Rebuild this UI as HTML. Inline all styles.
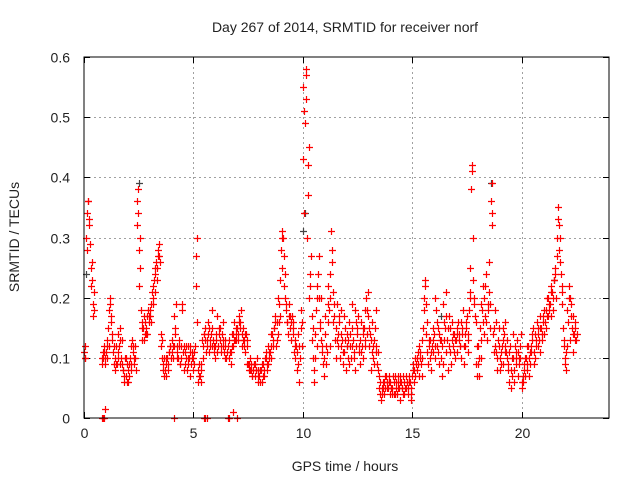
<!DOCTYPE html>
<html><head><meta charset="utf-8"><style>
body{margin:0;background:#fff}
svg{display:block;font-family:"Liberation Sans",sans-serif}
</style></head><body>
<svg id="chart" width="640" height="480" viewBox="0 0 640 480">
<rect width="640" height="480" fill="#fff"/>
<text x="345" y="32" font-size="14" text-anchor="middle" fill="#222">Day 267 of 2014, SRMTID for receiver norf</text>
<text transform="translate(19,237) rotate(-90)" font-size="14" text-anchor="middle" fill="#222">SRMTID / TECUs</text>
<text x="345" y="471" font-size="14" text-anchor="middle" fill="#222">GPS time / hours</text>
<g id="grid"></g>
<g id="ticks"></g>
<g id="marks"></g>
<rect x="84" y="57" width="525" height="361" fill="none" stroke="#000" stroke-width="1"/>
</svg>
<script>
const xTicks=[0,5,10,15,20];
const yTicks=[0,0.1,0.2,0.3,0.4,0.5,0.6];
const yTickLabels=["0","0.1","0.2","0.3","0.4","0.5","0.6"];
const hours=[0.0,0.1,0.2,0.3,0.4,0.5,0.6,0.7,0.8,0.9,1.0,1.1,1.2,1.3,1.4,1.5,1.6,1.7,1.8,1.9,2.0,2.1,2.2,2.3,2.4,2.5,2.6,2.7,2.8,2.9,3.0,3.1,3.2,3.3,3.4,3.5,3.6,3.7,3.8,3.9,4.0,4.1,4.2,4.3,4.4,4.5,4.6,4.7,4.8,4.9,5.0,5.1,5.2,5.3,5.4,5.5,5.6,5.7,5.8,5.9,6.0,6.1,6.2,6.3,6.4,6.5,6.6,6.7,6.8,6.9,7.0,7.1,7.2,7.3,7.4,7.5,7.6,7.7,7.8,7.9,8.0,8.1,8.2,8.3,8.4,8.5,8.6,8.7,8.8,8.9,9.0,9.1,9.2,9.3,9.4,9.5,9.6,9.7,9.8,9.9,10.0,10.1,10.2,10.3,10.4,10.5,10.6,10.7,10.8,10.9,11.0,11.1,11.2,11.3,11.4,11.5,11.6,11.7,11.8,11.9,12.0,12.1,12.2,12.3,12.4,12.5,12.6,12.7,12.8,12.9,13.0,13.1,13.2,13.3,13.4,13.5,13.6,13.7,13.8,13.9,14.0,14.1,14.2,14.3,14.4,14.5,14.6,14.7,14.8,14.9,15.0,15.1,15.2,15.3,15.4,15.5,15.6,15.7,15.8,15.9,16.0,16.1,16.2,16.3,16.4,16.5,16.6,16.7,16.8,16.9,17.0,17.1,17.2,17.3,17.4,17.5,17.6,17.7,17.8,17.9,18.0,18.1,18.2,18.3,18.4,18.5,18.6,18.7,18.8,18.9,19.0,19.1,19.2,19.3,19.4,19.5,19.6,19.7,19.8,19.9,20.0,20.1,20.2,20.3,20.4,20.5,20.6,20.7,20.8,20.9,21.0,21.1,21.2,21.3,21.4,21.5,21.6,21.7,21.8,21.9,22.0,22.1,22.2,22.3,22.4,22.5];
const seriesA=[.11,.30,.36,.25,.19,null,null,null,.10,.12,
.11,.15,.19,.13,.10,.09,.12,.10,.08,.07,
.08,.10,.13,.09,.36,.28,.18,.15,.16,.14,
.18,.21,.23,.26,.28,.12,.09,.08,.10,.11,
.11,.12,.19,.10,.09,.18,.11,.08,.10,.09,
.10,.27,.08,.07,.13,.14,.12,.11,.14,.13,
.12,.17,.13,.14,.11,.10,.12,.11,.14,.13,
.15,.17,.14,.12,.14,.09,.08,.07,.09,.10,
.07,.08,.09,.10,.12,.11,.14,.15,.13,.16,
.28,.30,.20,.16,.15,.17,.11,.12,.09,.15,
.55,.49,.30,.20,.13,.08,.18,.24,.16,.12,
.14,.11,.18,.31,.21,.15,.12,.10,.13,.11,
.12,.16,.10,.13,.18,.14,.09,.12,.15,.20,
.17,.13,.10,.15,.09,.05,.04,.06,.07,.05,
.06,.05,.07,.04,.05,.06,.07,.05,.04,.06,
.07,.08,.10,.12,.09,.15,.22,.11,.13,.12,
.14,.18,.11,.10,.09,.15,.13,.12,.16,.11,
.13,.16,.12,.15,.14,.17,.18,.38,.23,.16,
.12,.15,.18,.20,.16,.21,.36,.14,.12,.10,
.10,.12,.14,.11,.09,.08,.10,.12,.13,.09,
.06,.08,.10,.12,.09,.13,.14,.16,.13,.15,
.17,.18,.20,.19,.21,.23,.27,.32,.24,.15,
.10,.18,.20,.15,.14,.13];
const seriesB=[.10,.34,.32,.22,.17,null,null,null,.09,.11,
.13,.12,.17,.11,.08,.14,.09,.13,.06,.10,
.06,.09,.11,.12,.32,.22,.15,.17,.14,.18,
.17,.20,.24,.25,.29,.14,.08,.10,.09,.12,
.13,.17,.10,.13,.12,.11,.09,.12,.07,.11,
.09,.22,.06,.09,.10,.15,.13,.15,.12,.11,
.14,.12,.15,.12,.13,null,.10,.09,.12,.15,
.13,.16,.12,.13,.12,.08,.09,.08,.07,.08,
.06,.09,.07,.11,.09,.14,.12,.17,.16,.19,
.25,.22,.18,.14,.17,.16,.13,.08,.06,.18,
.43,.53,.37,.24,.17,.06,.12,.27,.20,.09,
.17,.22,.12,.28,.17,.10,.14,.18,.09,.15,
.14,.09,.15,.11,.12,.17,.13,.10,.18,.14,
.12,.08,.12,.18,.11,.06,.05,.04,.06,.07,
.05,.07,.04,.06,.03,.05,.06,.07,.05,.05,
.09,.10,.08,.07,.13,.18,.14,.09,.10,.15,
.20,.12,.09,.13,.19,.11,.08,.15,.13,.14,
.11,.14,.10,.18,.12,.13,.25,.42,.20,.09,
.09,.19,.22,.17,.13,.26,.32,.11,.16,.13,
.08,.15,.11,.13,.06,.05,.14,.11,.07,.12,
.05,.09,.12,.07,.11,.15,.10,.12,.17,.14,
.14,.15,.17,.22,.18,.25,.30,.28,.21,.12,
.08,.16,.13,.11,.16,null];
const seriesC=[.12,.36,.29,.26,.21,null,null,null,.10,.10,
.10,.20,.14,.09,.12,.10,.15,.08,.10,.06,
.07,.12,.10,.08,.38,.25,.13,.14,.17,.16,
.19,.22,.21,.27,.26,.10,.07,.09,.11,.10,
.10,.14,.12,.09,.19,.08,.12,.10,.11,.08,
.12,.16,.07,.08,.14,.11,.16,.13,.18,.10,
.11,.14,.11,.16,.10,null,.11,.14,.16,.13,
.16,.18,.13,.11,.09,.10,.07,.09,.08,.06,
.08,.07,.10,.08,.11,.10,.15,.12,.20,.23,
.31,.24,.16,.19,.13,.15,.10,.14,.10,.12,
.34,.57,.45,.27,.10,.14,.22,.15,.11,.07,
.09,.19,.24,.16,.13,.19,.16,.12,.17,.08,
.10,.12,.19,.08,.15,.11,.16,.14,.12,.21,
.14,.16,.09,.11,.07,.03,.06,.07,.05,.04,
.04,.06,.05,.07,.06,.04,.05,.06,.07,.03,
.06,.09,.11,.10,.07,.23,.16,.13,.08,.11,
.10,.15,.13,.07,.16,.21,.17,.09,.12,.10,
.15,.12,.14,.09,.16,.11,.21,.30,.17,.07,
.07,.10,.14,.24,.19,.15,.39,.18,.08,.15,
.11,.09,.16,.08,.12,.10,.06,.09,.10,.14,
.07,.10,.08,.11,.14,.09,.12,.14,.11,.16,
.16,.20,.19,.17,.23,.20,.35,.26,.19,.09,
.12,.22,.19,.17,.13,null];
const seriesD=[.10,.28,.33,.23,.18,null,null,null,.11,.09,
.12,.18,.16,.12,.09,.11,.13,.09,.07,.09,
.09,.08,.12,.10,.34,.30,.16,.13,.15,.17,
.16,.19,.25,.23,.27,.13,.10,.07,.08,.12,
.12,.15,.11,.12,.10,.12,.10,.09,.12,.10,
.11,.30,.09,.06,.12,.13,.14,.12,.15,.12,
.13,.15,.12,.13,.12,.11,.13,.12,.13,.14,
.14,.15,.15,.14,.13,.09,.08,.09,.08,.07,
.08,.06,.08,.09,.10,.12,.13,.16,.14,.17,
.30,.27,.19,.17,.16,.14,.12,.11,.12,.16,
.51,.58,.42,.22,.15,.10,.20,.20,.13,.10,
.12,.16,.20,.26,.19,.13,.17,.14,.11,.13,
.13,.14,.12,.10,.16,.12,.11,.15,.13,.18,
.15,.11,.13,.12,.08,.04,.05,.05,.06,.06,
.05,.04,.06,.05,.07,.05,.04,.06,.06,.04,
.08,.07,.09,.11,.10,.20,.19,.12,.11,.13,
.12,.16,.14,.12,.13,.17,.15,.11,.14,.13,
.14,.13,.16,.12,.15,.14,.20,.41,.19,.12,
.10,.13,.16,.22,.18,.19,.34,.15,.11,.12,
.09,.13,.12,.10,.11,.07,.08,.10,.11,.10,
.06,.07,.09,.10,.12,.11,.13,.15,.15,.13,
.18,.17,.18,.21,.20,.24,.33,.30,.22,.13,
.11,.20,.17,.14,.15,.14];

const zeroHours=[0.8,0.85,0.9,0.95,4.1,5.5,5.55,5.6,6.6,6.65,6.8,7.0];
const zeroValues=[0,0,0,0.015,0,0,0,0,0,0,0.01,0];
const greyHours=[0.1,2.5,10.0,10.1,12.0,16.3,18.6,21.5];
const greyValues=[0.24,0.39,0.31,0.34,0.12,0.17,0.39,0.23];

const NS='http://www.w3.org/2000/svg';
const X0=84,X1=609,Y0=418,Y1=57,XMAX=24,YMAX=0.6;
function xs(h){return X0+(h/XMAX)*(X1-X0);}
function ys(v){return Y0-(v/YMAX)*(Y0-Y1);}
const grid=document.getElementById('grid'),ticks=document.getElementById('ticks'),marks=document.getElementById('marks');
function line(g,x1,y1,x2,y2,stroke,dash){const l=document.createElementNS(NS,'line');l.setAttribute('x1',x1);l.setAttribute('y1',y1);l.setAttribute('x2',x2);l.setAttribute('y2',y2);l.setAttribute('stroke',stroke);if(dash)l.setAttribute('stroke-dasharray',dash);g.appendChild(l);return l;}
function txt(x,y,s,anchor){const t=document.createElementNS(NS,'text');t.setAttribute('x',x);t.setAttribute('y',y);t.setAttribute('font-size','14');t.setAttribute('fill','#222');t.setAttribute('text-anchor',anchor);t.textContent=s;ticks.appendChild(t);return t;}
xTicks.forEach(h=>{const x=Math.round(xs(h))+0.5;
 if(h>0){const g=line(grid,x,Y1,x,Y0,'#a0a0a0','2,3');}
 line(ticks,x,Y0,x,Y0-6,'#000');line(ticks,x,Y1,x,Y1+6,'#000');
 const t=txt(x,438,String(h),'middle');
 
 
});
yTicks.forEach((v,i)=>{const y=Math.round(ys(v))+0.5;
 if(v>0&&v<YMAX){const g=line(grid,X0,y,X1,y,'#a0a0a0','2,3');}
 line(ticks,X0,y,X0+6,y,'#000');line(ticks,X1,y,X1-6,y,'#000');
 const t=txt(70,y+5,yTickLabels[i],'end');
 
 
});
function plus(h,v,color,name){const x=Math.round(xs(h))+0.5,y=Math.round(ys(v))+0.5;
 const p=document.createElementNS(NS,'path');
 p.setAttribute('d','M'+(x-3.5)+' '+y+'h7M'+x+' '+(y-3.5)+'v7');
 p.setAttribute('stroke',color);p.setAttribute('stroke-width','1.2');
 
 
 marks.appendChild(p);}
greyHours.forEach((h,i)=>plus(h,greyValues[i],'#444','grey-point'));
[[seriesA,0],[seriesB,0.033],[seriesC,0.066],[seriesD,0.05]].forEach(([s,off])=>{
 hours.forEach((h,i)=>{const v=s[i];if(v!==null&&v!==undefined)plus(h+off,v,'#ff0000','srmtid-point');});
});
zeroHours.forEach((h,i)=>plus(h,zeroValues[i],'#ff0000','zero-point'));
</script>
</body></html>
